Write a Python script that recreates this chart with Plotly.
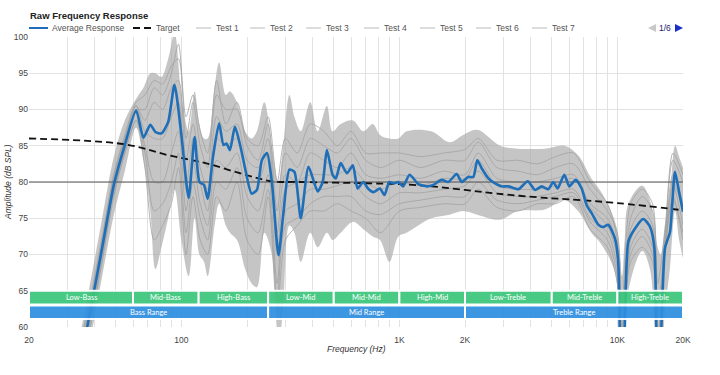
import math
import plotly.graph_objects as go

# ---------------- data ----------------
FREQ = [20, 30, 37, 43, 49, 55, 62, 67, 72, 76, 81, 87, 93, 100, 108, 115, 121, 127, 132, 140,
        149, 156, 161, 167, 176, 186, 196, 210, 222, 234, 247, 260, 279, 293, 313, 330, 353, 383,
        422, 445, 465, 494, 511, 538, 575, 612, 643, 683, 718, 760, 814, 855, 898, 943, 990, 1040,
        1114, 1222, 1335, 1432, 1564, 1676, 1832, 1932, 2071, 2184, 2277, 2385, 2560, 2748, 2947,
        3162, 3515, 3880, 4191, 4497, 4820, 5081, 5320, 5710, 6020, 6440, 6860, 7230, 7620, 8180,
        8620, 9080, 9750, 10090, 10400, 10700, 11230, 12050, 13160, 14130, 14780, 15300, 15700,
        16540, 17430, 18370, 19170, 20000]
AVERAGE = [30, 47, 60, 70.4, 79.6, 85.1, 89.9, 86.1, 87.9, 86.9, 86.7, 88.3, 93.4, 86.5, 77.8, 86.2,
           80.0, 79.6, 77.7, 83.7, 88.1, 85.1, 85.3, 84.4, 87.6, 85.1, 81.9, 78.4, 78.9, 83.0, 84.0,
           80.0, 69.9, 75.4, 81.7, 81.4, 75.0, 82.1, 78.7, 80.0, 84.4, 81.0, 80.5, 82.6, 81.2, 82.3,
           79.1, 80.0, 79.1, 78.6, 79.1, 78.2, 80.0, 79.8, 80.0, 79.4, 81.0, 79.7, 79.4, 79.6, 80.3,
           80.0, 81.1, 80.0, 80.7, 80.7, 83.0, 81.9, 80.5, 79.8, 79.4, 79.4, 79.0, 80.1, 78.9, 79.4,
           79.0, 80.0, 79.1, 81.0, 79.4, 80.3, 79.1, 76.8, 75.7, 74.1, 73.8, 74.1, 72.2, 69.0, 52,
           55, 71.8, 73.6, 74.9, 73.8, 70.9, 52, 55, 70.9, 73.1, 81.4, 78.7, 75.9]

ENV_FREQ = [20, 30, 37, 43, 49, 55, 62, 67, 72, 76, 81, 87, 93, 100, 108, 115, 121, 127, 132, 142,
            149, 160, 167, 180, 196, 210, 222, 240, 260, 279, 293, 313, 330, 353, 390, 422, 465,
            494, 538, 612, 683, 755, 815, 900, 990, 1080, 1400, 1700, 1960, 2277, 2900, 3500, 4650,
            5710, 6600, 7600, 8400, 9750, 10200, 10500, 10800, 11230, 13000, 14100, 14800, 15300,
            15800, 16500, 17400, 18400, 19200, 20000]
ENV_UPPER = [34, 51, 64, 74.5, 83.5, 88.5, 91.5, 93, 95, 95, 94.5, 97, 100.5, 92, 87, 92.5, 88, 86,
             86, 93, 96.5, 92, 92.5, 91, 87, 86, 87, 91, 85, 80, 85, 92, 89, 87, 91, 87, 90.5, 87,
             88, 88.5, 87, 88, 86.5, 86, 86, 87, 87, 85.5, 86.5, 87.2, 85, 84.6, 84.6, 85, 83.7,
             80.5, 78.7, 74.6, 71, 67, 72, 77, 79.5, 77.5, 74, 71, 70, 74, 78, 85, 83.5, 82]
ENV_LOWER = [26, 43, 56, 66.5, 75.5, 81.5, 87.5, 83, 76, 68, 71, 75, 79, 72, 67, 75, 70, 69, 67, 74,
             77, 74, 73, 72, 68, 66, 65.5, 73, 70, 57, 63, 74, 73, 69, 73, 71, 73, 72, 73, 74.5,
             73.5, 72.5, 72, 69, 72.5, 73, 75, 75.5, 76, 75.5, 74.8, 76, 76.2, 77.5, 76, 73, 71.5,
             67.5, 58, 55, 57, 65, 70.5, 68, 60, 55, 55, 62, 68, 76, 72, 69.5]

TEST_FREQ = [20, 37, 43, 49, 55, 62, 68, 75, 82, 90, 97, 105, 113, 122, 132, 145, 160, 180, 200,
             225, 250, 275, 300, 340, 390, 450, 520, 600, 700, 820, 1000, 1250, 1600, 2000, 2300,
             2800, 3500, 4300, 5200, 6300, 7500, 9000, 10000, 10500, 11500, 13000, 14500, 15300,
             16500, 18000, 20000]
TEST_1 = [32, 62, 72, 81, 86.5, 91, 92, 94, 93.5, 96, 97, 86, 91, 85, 82, 92, 90, 90, 85, 83, 88, 76,
          84, 82, 86, 85, 84, 86, 83, 82, 83, 82, 83, 83, 85.5, 82, 81.5, 81, 82, 82.5, 79, 76, 73,
          60, 75, 78, 76, 62, 72, 83, 80]
TEST_2 = [28, 58, 68.5, 78, 84, 88.5, 82, 72, 74, 77, 82, 70, 78, 72, 70, 78, 76, 80, 72, 70, 78, 62,
          72, 74, 76, 76, 77, 76, 75, 73, 76, 76.5, 77, 77, 79, 76.5, 76, 77, 77, 78, 73.5, 71, 66,
          55, 69, 71, 69, 56, 70, 78, 72]
TEST_3 = [31, 61, 71, 80.5, 86, 90.5, 88.5, 91, 90, 93, 94, 83, 88, 82, 79, 89, 87, 88, 83, 82, 86,
          73, 81, 80, 84, 83, 82, 84, 81, 80.5, 81, 80.5, 81.5, 81, 84, 80.5, 80, 80, 80.5, 81, 77,
          75, 71, 58, 73.5, 76, 74, 58, 71.5, 81, 77]
TEST_4 = [29, 59, 69.5, 79, 84.5, 89.5, 85, 80, 80, 84, 87, 76, 83, 77, 74, 83, 82, 84, 78, 76, 81,
          66, 76, 77, 79, 79, 79.5, 80, 78, 77, 78.5, 78.5, 79, 79.5, 81.5, 78.5, 78, 78, 78.5, 79,
          75, 73, 68, 55, 71, 73.5, 71, 54, 70, 79.5, 74]
TEST_5 = [30.5, 60.5, 70.5, 80, 85.5, 90, 90, 93, 92, 95, 99, 89, 92, 87, 84, 94, 88, 91, 86, 85, 89,
          80, 86, 84, 88, 87, 85, 87, 84, 84, 84, 83.5, 84, 84.5, 86, 83, 83, 82.5, 83.5, 84, 80,
          77, 72, 63, 77, 79, 77, 66, 73, 84, 81]
TEST_6 = [28.5, 58.5, 69, 78.5, 84, 88.5, 84, 76, 77, 80, 84, 73, 80, 75, 72, 80, 79, 82, 75, 73, 79,
          64, 74, 75, 77, 78, 78, 78, 76, 75.5, 77, 77.5, 78, 78, 80, 77.5, 77, 77.5, 78, 78.5, 74.5,
          72, 67, 54, 70, 72.5, 70, 55, 70.5, 77.5, 73]
TEST_7 = [31.5, 61.5, 71.5, 81, 86, 90.5, 87, 86, 86, 89, 91, 79, 86, 80, 76, 86, 85, 86, 81, 80, 84,
          70, 79, 80, 81, 81, 81, 82, 80, 79, 80, 79.5, 80.5, 80.5, 83, 79.5, 79, 79, 79.5, 80.5,
          76.5, 74, 69.5, 56, 72, 75, 73, 57, 71, 80, 76]
TESTS = [TEST_1, TEST_2, TEST_3, TEST_4, TEST_5, TEST_6, TEST_7]
TEST_NAMES = ["Test 1", "Test 2", "Test 3", "Test 4", "Test 5", "Test 6", "Test 7"]

TARGET_FREQ = [20, 55, 87, 129, 196, 260, 350, 760, 1000, 1400, 2000, 2800, 4700, 6000, 10000, 20000]
TARGET = [86.0, 85.2, 83.7, 82.6, 81.0, 80.1, 80.0, 79.8, 79.7, 79.4, 78.9, 78.4, 77.8, 77.6, 77.1, 76.1]
REF_LEVEL = 80

X_TICKS = [20, 100, 1000, 2000, 10000, 20000]
X_TICK_TEXT = ["20", "100", "1K", "2K", "10K", "20K"]
X_MINOR = [30, 40, 50, 60, 70, 80, 90, 200, 300, 400, 500, 600, 700, 800, 900,
           3000, 4000, 5000, 6000, 7000, 8000, 9000]
Y_TICKS = [60, 65, 70, 75, 80, 85, 90, 95, 100]

BAND_NAMES = ["Low-Bass", "Mid-Bass", "High-Bass", "Low-Mid", "Mid-Mid", "High-Mid",
              "Low-Treble", "Mid-Treble", "High-Treble"]
BAND_LO = [20, 60, 120, 250, 500, 1000, 2000, 5000, 10000]
BAND_HI = [60, 120, 250, 500, 1000, 2000, 5000, 10000, 20000]
RANGE_NAMES = ["Bass Range", "Mid Range", "Treble Range"]
RANGE_LO = [20, 250, 2000]
RANGE_HI = [250, 2000, 20000]
BAND_ROW = (63.1, 65.0)
RANGE_ROW = (61.1, 62.95)

# ---------------- style ----------------
BLUE = "#1f6fb8"
GREEN = "#3cc67b"
RBLUE = "#2f8fdf"
GREY_LINE = "#a2a2a2"
FONT = "Liberation Sans, Arial, sans-serif"

L, R, T, B = 29, 37, 37, 48
W, H = 720, 375
PW, PH = W - L - R, H - T - B


def px_x(p):
    return (p - L) / PW


def px_y(p):
    return (H - B - p) / PH


fig = go.Figure()

# grey cloud envelope
fig.add_trace(go.Scatter(x=ENV_FREQ, y=ENV_UPPER, mode="lines", line=dict(width=0, shape="spline"),
                         showlegend=False, hoverinfo="skip"))
fig.add_trace(go.Scatter(x=ENV_FREQ, y=ENV_LOWER, mode="lines", line=dict(width=0, shape="spline"),
                         fill="tonexty", fillcolor="rgba(165,165,165,0.64)",
                         showlegend=False, hoverinfo="skip"))
for name, vals in zip(TEST_NAMES, TESTS):
    fig.add_trace(go.Scatter(x=TEST_FREQ, y=vals, mode="lines", name=name,
                             line=dict(color=GREY_LINE, width=0.8, shape="spline", smoothing=0.8)))

fig.add_trace(go.Scatter(x=[BAND_LO[0], BAND_HI[-1]], y=[REF_LEVEL, REF_LEVEL], mode="lines",
                         line=dict(color="#555555", width=1), showlegend=False, hoverinfo="skip"))
fig.add_trace(go.Scatter(x=TARGET_FREQ, y=TARGET, mode="lines", name="Target",
                         line=dict(color="#111111", width=1.8, dash="7px,4px", shape="spline")))
fig.add_trace(go.Scatter(x=FREQ, y=AVERAGE, mode="lines", name="Average Response",
                         line=dict(color=BLUE, width=2.6, shape="spline", smoothing=0.6)))

shapes = []
annotations = []

# frequency band bars
for names, los, his, row, col in [(BAND_NAMES, BAND_LO, BAND_HI, BAND_ROW, GREEN),
                                  (RANGE_NAMES, RANGE_LO, RANGE_HI, RANGE_ROW, RBLUE)]:
    for nm, lo, hi in zip(names, los, his):
        shapes.append(dict(type="rect", xref="x", yref="y", x0=lo, x1=hi, y0=row[0], y1=row[1],
                           fillcolor=col, line=dict(color="white", width=2), layer="above",
                           opacity=0.93))
        annotations.append(dict(xref="x", yref="y", x=(math.log10(lo) + math.log10(hi)) / 2,
                                y=(row[0] + row[1]) / 2, text=nm, showarrow=False,
                                font=dict(family="Lato, sans-serif", size=7.5, color="white")))

# manual legend
LEG_Y = px_y(28)
shapes.append(dict(type="line", xref="paper", yref="paper", x0=px_x(29), x1=px_x(48),
                   y0=LEG_Y, y1=LEG_Y, line=dict(color=BLUE, width=2)))
annotations.append(dict(xref="paper", yref="paper", x=px_x(50), y=LEG_Y, text="Average Response",
                        showarrow=False, xanchor="left", yanchor="middle",
                        font=dict(family=FONT, size=8.5, color="#555555")))
shapes.append(dict(type="line", xref="paper", yref="paper", x0=px_x(133), x1=px_x(151),
                   y0=LEG_Y, y1=LEG_Y, line=dict(color="#111111", width=2, dash="7px,4px")))
annotations.append(dict(xref="paper", yref="paper", x=px_x(154), y=LEG_Y, text="Target",
                        showarrow=False, xanchor="left", yanchor="middle",
                        font=dict(family=FONT, size=8.5, color="#555555")))
for i, nm in enumerate(TEST_NAMES):
    s = [196, 250, 306, 364, 420, 476, 532][i]
    shapes.append(dict(type="line", xref="paper", yref="paper", x0=px_x(s), x1=px_x(s + 15),
                       y0=LEG_Y, y1=LEG_Y, line=dict(color="#bbbbbb", width=1)))
    annotations.append(dict(xref="paper", yref="paper", x=px_x(s + 18), y=LEG_Y, text=nm,
                            showarrow=False, xanchor="left", yanchor="middle",
                            font=dict(family=FONT, size=8.5, color="#555555")))

# pager
def tri(x0, x1, yc, left):
    ya, yb = px_y(yc - 4), px_y(yc + 4)
    if left:
        return f"M {px_x(x1)},{ya} L {px_x(x1)},{yb} L {px_x(x0)},{LEG_Y} Z"
    return f"M {px_x(x0)},{ya} L {px_x(x0)},{yb} L {px_x(x1)},{LEG_Y} Z"

shapes.append(dict(type="path", xref="paper", yref="paper", path=tri(648, 656, 28, True),
                   fillcolor="#c8c8c8", line=dict(width=0)))
shapes.append(dict(type="path", xref="paper", yref="paper", path=tri(675, 683, 28, False),
                   fillcolor="#1a2ec8", line=dict(width=0)))
annotations.append(dict(xref="paper", yref="paper", x=px_x(665), y=LEG_Y, text="1/6",
                        showarrow=False, xanchor="center", yanchor="middle",
                        font=dict(family=FONT, size=8.5, color="#1a1a6e")))

# title and axis titles
annotations.append(dict(xref="paper", yref="paper", x=px_x(28), y=px_y(16),
                        text="<b>Raw Frequency Response</b>", showarrow=False,
                        xanchor="left", yanchor="middle",
                        font=dict(family=FONT, size=9.5, color="#222222")))
annotations.append(dict(xref="paper", yref="paper", x=px_x(8), y=0.5,
                        text="<i>Amplitude (dB SPL)</i>", showarrow=False, textangle=-90,
                        xanchor="center", yanchor="middle",
                        font=dict(family=FONT, size=8.5, color="#333333")))
annotations.append(dict(xref="paper", yref="paper", x=0.5, y=px_y(349),
                        text="<i>Frequency (Hz)</i>", showarrow=False,
                        xanchor="center", yanchor="middle",
                        font=dict(family=FONT, size=8.5, color="#333333")))

GRID = "#e2e2e2"
fig.update_layout(
    width=W, height=H, margin=dict(l=L, r=R, t=T, b=B, pad=0),
    paper_bgcolor="white", plot_bgcolor="white", showlegend=False,
    shapes=shapes, annotations=annotations,
    xaxis=dict(type="log", range=[math.log10(X_TICKS[0]), math.log10(X_TICKS[-1])],
               tickvals=X_TICKS, ticktext=X_TICK_TEXT, showgrid=True, gridcolor=GRID,
               gridwidth=1, zeroline=False, showline=False, ticks="", ticklabelstandoff=6,
               tickfont=dict(family=FONT, size=8.5, color="#444444"),
               minor=dict(tickvals=X_MINOR, showgrid=True, gridcolor=GRID, gridwidth=1, ticks="")),
    yaxis=dict(range=[Y_TICKS[0], Y_TICKS[-1]], tickvals=Y_TICKS, showgrid=True, gridcolor=GRID,
               gridwidth=1, zeroline=False, showline=False, ticks="",
               tickfont=dict(family=FONT, size=8.5, color="#444444")),
)

fig.write_html("out.html", config={"displayModeBar": False},
               post_script="document.body.style.margin='0px';")
